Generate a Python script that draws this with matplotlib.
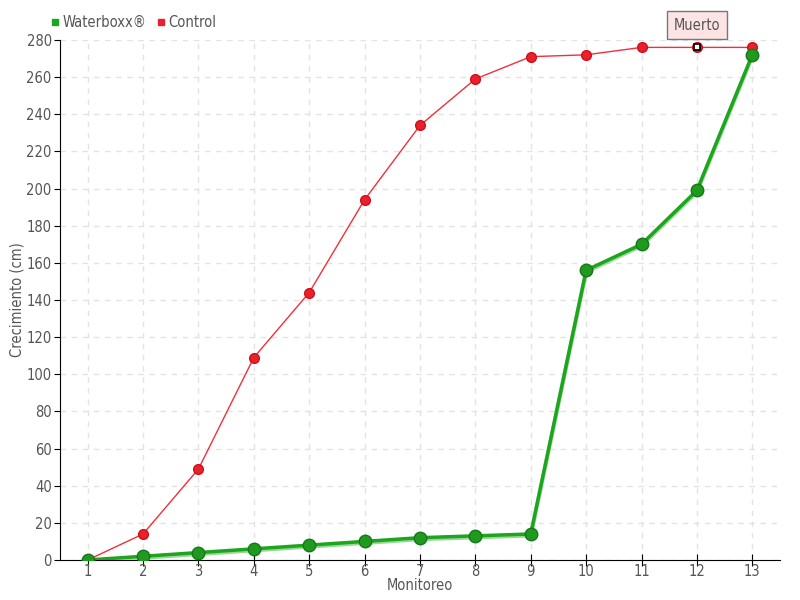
import matplotlib
matplotlib.use("Agg")
import matplotlib.pyplot as plt
from matplotlib.lines import Line2D

# data
monitoreo = [1, 2, 3, 4, 5, 6, 7, 8, 9, 10, 11, 12, 13]
waterboxx = [0, 2, 4, 6, 8, 10, 12, 13, 14, 156, 170, 199, 272]
control = [0, 14, 49, 109, 144, 194, 234, 259, 271, 272, 276, 276, 276]
y_ticks = list(range(0, 281, 20))
muerto_idx = 11  # control tree marked dead at monitoreo 12

plt.rcParams['font.family'] = ['DejaVu Sans']
plt.rcParams['font.stretch'] = 'condensed'
txt = '#555555'

fig = plt.figure(figsize=(8, 6), dpi=100)
ax = fig.add_axes([0.075, 0.0667, 0.9, 0.8667])

ax.grid(True, color='#e3e3e3', linestyle=(0, (4, 4)), linewidth=1)
ax.set_axisbelow(True)

# control series
ax.plot(monitoreo, control, color='#f0303a', lw=1, zorder=3)
ax.plot(monitoreo, control, 'o', ms=7, color='#e8212c', mec='#d0101a', zorder=4)
ax.plot(monitoreo[muerto_idx], control[muerto_idx], 's', ms=4.5,
        mfc='white', mec='black', mew=1.2, zorder=6)

# waterboxx series (light underline + main line)
ax.plot(monitoreo, [v - 0.8 for v in waterboxx], color='#9ad89a', lw=3, zorder=3)
ax.plot(monitoreo, waterboxx, color='#1ea51e', lw=2.5, zorder=4)
ax.plot(monitoreo, waterboxx, 'o', ms=9, color='#1f9a1f', mec='#17771a', mew=1, zorder=5)

ax.annotate('Muerto', (monitoreo[muerto_idx], control[muerto_idx]),
            xytext=(0, 16), textcoords='offset points', ha='center', va='center',
            fontsize=10.5, color=txt,
            bbox=dict(boxstyle='square,pad=0.45', fc='#fde4e4', ec='#777777', lw=1),
            zorder=7)

ax.set_xlim(0.5, 13.5)
ax.set_ylim(0, 280)
ax.set_xticks(monitoreo)
ax.set_yticks(y_ticks)
ax.tick_params(axis='x', direction='inout', length=8, colors=txt, labelsize=10.5, pad=-1)
ax.tick_params(axis='y', direction='out', length=4, colors=txt, labelsize=10.5, pad=2)
ax.tick_params(axis='both', color='black')
for s in ['top', 'right']:
    ax.spines[s].set_visible(False)
ax.spines['left'].set_color('black')
ax.spines['bottom'].set_color('black')

ax.set_xlabel('Monitoreo', color=txt, fontsize=10.5, labelpad=-1)
ax.set_ylabel('Crecimiento (cm)', color=txt, fontsize=10.5, labelpad=1)

handles = [Line2D([], [], marker='s', ls='', color='#1ea51e', ms=5),
           Line2D([], [], marker='s', ls='', color='#e8212c', ms=5)]
fig.legend(handles, ['Waterboxx®', 'Control'], loc='upper left',
           bbox_to_anchor=(0.045, 0.997), ncol=2, frameon=False, fontsize=10.5,
           handletextpad=0.1, columnspacing=0.6, handlelength=0.8,
           labelcolor=txt)

fig.savefig('out.png', dpi=100)
